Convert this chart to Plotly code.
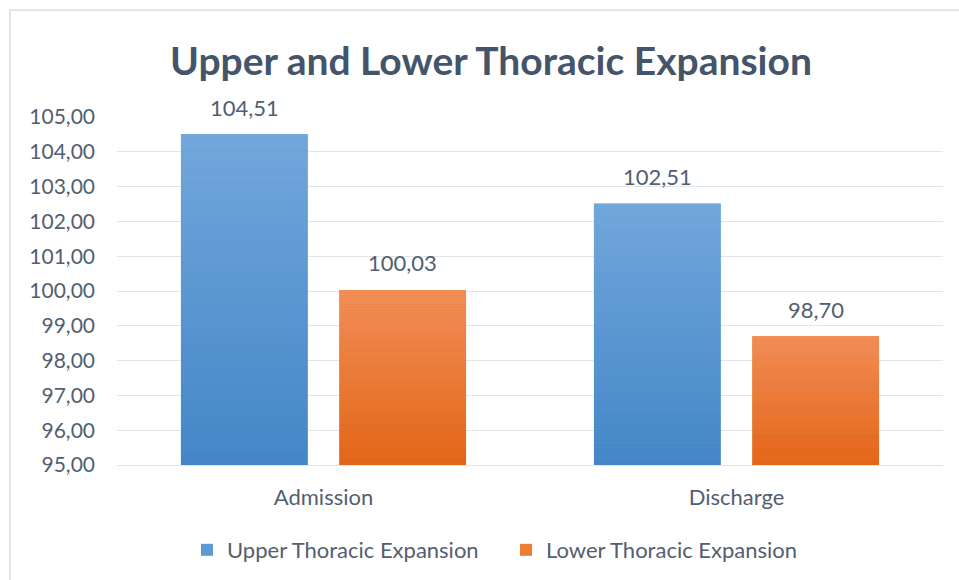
import plotly.graph_objects as go

# Thoracic expansion measurements (%), admission vs. discharge
categories = ["Admission", "Discharge"]
upper_values = [104.51, 102.51]
lower_values = [100.03, 98.70]
series_names = ["Upper Thoracic Expansion", "Lower Thoracic Expansion"]

y_floor = 95.0
y_ticks = [95, 96, 97, 98, 99, 100, 101, 102, 103, 104, 105]

TEXT = "#535E70"
TITLE = "#44546A"
GRID = "#E2E5EA"
FONT = "Lato"

# (legend colour, gradient top, gradient bottom)
palettes = [
    ("#5B9BD5", (0x72, 0xA7, 0xDB), (0x43, 0x86, 0xC7)),
    ("#ED7D31", (0xF1, 0x8E, 0x58), (0xE2, 0x65, 0x17)),
]

N_SLICES = 60
BAR_SHIFT = 79  # px from category centre to each bar centre


def mix(c0, c1, t):
    return "rgb(%d,%d,%d)" % tuple(round(a + (b - a) * t) for a, b in zip(c0, c1))


fig = go.Figure()

for k, (name, values, (solid, top, bottom), grp) in enumerate(
    zip(series_names, [upper_values, lower_values], palettes, ["up", "low"])
):
    # solid bar: carries the legend entry
    fig.add_trace(
        go.Bar(
            name=name,
            x=categories,
            y=values,
            offsetgroup=grp,
            marker=dict(color=solid, line=dict(width=0)),
        )
    )
    # vertical gradient painted as thin stacked slices over the solid bar
    for i in range(N_SLICES):
        f0 = i / N_SLICES
        f1 = (i + 1) / N_SLICES
        bases = [y_floor + (v - y_floor) * f0 for v in values]
        heights = [(v - y_floor) * (f1 - f0) * 1.02 for v in values]
        fig.add_trace(
            go.Bar(
                x=categories,
                y=heights,
                base=bases,
                offsetgroup=grp,
                marker=dict(color=mix(bottom, top, (f0 + f1) / 2), line=dict(width=0)),
                showlegend=False,
                hoverinfo="skip",
            )
        )
    # value labels above each bar
    for cat, v in zip(categories, values):
        fig.add_annotation(
            x=cat,
            y=v,
            text=f"{v:.2f}".replace(".", ","),
            showarrow=False,
            xshift=(-1 if k == 0 else 1) * BAR_SHIFT,
            yshift=27,
            yanchor="middle",
            font=dict(family=FONT, size=22, color=TEXT),
        )

# outer frame of the chart card
plot_l, plot_r, plot_t, plot_b = 117, 943, 117, 465
W, H = 959, 580
pw, ph = plot_r - plot_l, plot_b - plot_t


def px_x(p):
    return (p - plot_l) / pw


def px_y(p):
    return (plot_b - p) / ph


fig.add_shape(
    type="rect",
    xref="paper",
    yref="paper",
    x0=px_x(10),
    x1=px_x(W + 5),
    y0=px_y(H + 5),
    y1=px_y(10),
    line=dict(color="#D9DDE3", width=1.5),
    fillcolor="rgba(0,0,0,0)",
    layer="below",
)

fig.update_layout(
    width=W,
    height=H,
    margin=dict(l=plot_l, r=W - plot_r, t=plot_t, b=H - plot_b, autoexpand=False),
    paper_bgcolor="white",
    plot_bgcolor="white",
    separators=",.",
    barmode="group",
    bargap=0.233,
    bargroupgap=0.2,
    title=dict(
        text="<b>Upper and Lower Thoracic Expansion</b>",
        font=dict(family=FONT, size=39, color=TITLE),
        x=px_x(491),
        xref="paper",
        xanchor="center",
        y=1 - 61 / H,
        yref="container",
        yanchor="middle",
    ),
    legend=dict(
        orientation="h",
        x=px_x(506),
        xanchor="center",
        y=px_y(550),
        yanchor="middle",
        font=dict(family=FONT, size=22, color=TEXT),
        itemwidth=30,
        entrywidth=274,
        entrywidthmode="pixels",
        traceorder="normal",
    ),
    showlegend=True,
)

fig.update_xaxes(
    showgrid=False,
    showline=True,
    linecolor=GRID,
    linewidth=1,
    ticks="",
    tickfont=dict(family=FONT, size=22, color=TEXT),
    ticklabelstandoff=13,
)

fig.update_yaxes(
    range=[y_floor, 105],
    tickvals=y_ticks,
    tickformat=".2f",
    showgrid=True,
    gridcolor=GRID,
    gridwidth=1,
    zeroline=False,
    showline=False,
    ticks="",
    tickfont=dict(family=FONT, size=21, color=TEXT),
    ticklabelstandoff=21,
)

fig.write_html("out.html")
